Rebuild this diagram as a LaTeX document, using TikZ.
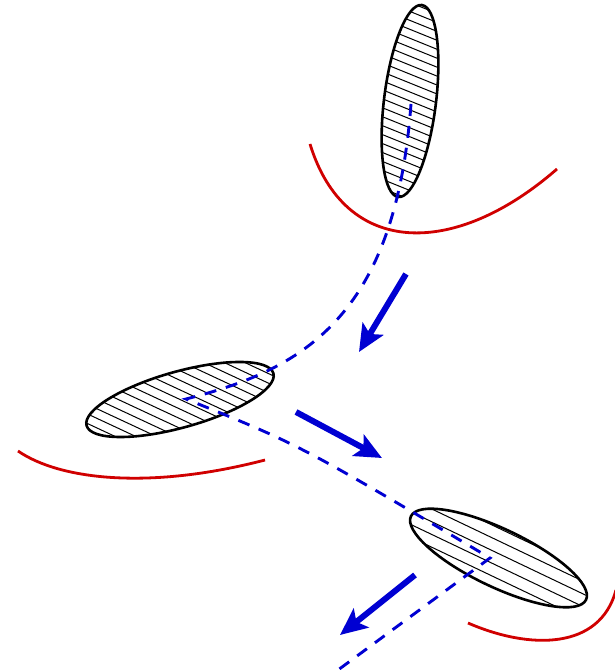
\documentclass[tikz,border=0pt]{standalone}
\usetikzlibrary{arrows.meta}
\definecolor{myblue}{RGB}{0,0,210}
\definecolor{myred}{RGB}{208,0,0}
\tikzset{
  outline/.style={draw=black,line width=2.6pt},
  hatchline/.style={black,line width=1.0pt},
  redcurve/.style={myred,line width=2.8pt},
  trail/.style={myblue,line width=2.9pt,dash pattern=on 12pt off 10pt},
  bigarrow/.style={myblue,line width=6pt,-{Stealth[length=27pt,width=24pt,inset=6pt]}}
}
\begin{document}
\begin{tikzpicture}[x=1pt,y=1pt]
\useasboundingbox (0,0) rectangle (614,670);
% named points
\coordinate (e1) at (410,569);
\coordinate (e2) at (180,270.5);
\coordinate (e3) at (498.5,112);
\coordinate (t1) at (411,566);
\coordinate (k2) at (186,271);
\coordinate (k3) at (490,112);
\coordinate (tend) at (338,0);
\coordinate (a1s) at (406,396);
\coordinate (a1e) at (359,318);
\coordinate (a2s) at (296,258);
\coordinate (a2e) at (382,212);
\coordinate (a3s) at (415,95);
\coordinate (a3e) at (340,35);
% red curves
\draw[redcurve] (310,526) .. controls (345,412) and (455,412) .. (557,501);
\draw[redcurve] (18,219) .. controls (60,190) and (150,180) .. (265,210);
\draw[redcurve] (468,47) .. controls (530,20) and (600,20) .. (616,80);
% ellipse 1
\begin{scope}
\clip (e1) circle[x radius=96.7, y radius=26, rotate=83];
\begin{scope}[shift={(e1)},rotate=-22]
\foreach \k in {-14,...,14} \draw[hatchline] (-120,{\k*8.3}) -- (120,{\k*8.3});
\end{scope}
\end{scope}
\draw[outline] (e1) circle[x radius=96.7, y radius=26, rotate=83];
% ellipse 2
\begin{scope}
\clip (e2) circle[x radius=97, y radius=28, rotate=15.6];
\begin{scope}[shift={(e2)},rotate=-25]
\foreach \k in {-14,...,14} \draw[hatchline] (-120,{\k*8.7}) -- (120,{\k*8.7});
\end{scope}
\end{scope}
\draw[outline] (e2) circle[x radius=97, y radius=28, rotate=15.6];
% ellipse 3
\begin{scope}
\clip (e3) circle[x radius=97, y radius=29, rotate=-25.5];
\begin{scope}[shift={(e3)},rotate=-25.5]
\foreach \k in {-5,...,5} \draw[hatchline] (-120,{\k*11.5+4}) -- (120,{\k*11.5+4});
\end{scope}
\end{scope}
\draw[outline] (e3) circle[x radius=97, y radius=29, rotate=-25.5];
% dashed trajectory
\draw[trail] (t1) .. controls (395,350) and (300,300) .. (k2)
  .. controls (300,225) .. (k3) -- (tend);
% arrows
\draw[bigarrow] (a1s) -- (a1e);
\draw[bigarrow] (a2s) -- (a2e);
\draw[bigarrow] (a3s) -- (a3e);
\end{tikzpicture}
\end{document}
